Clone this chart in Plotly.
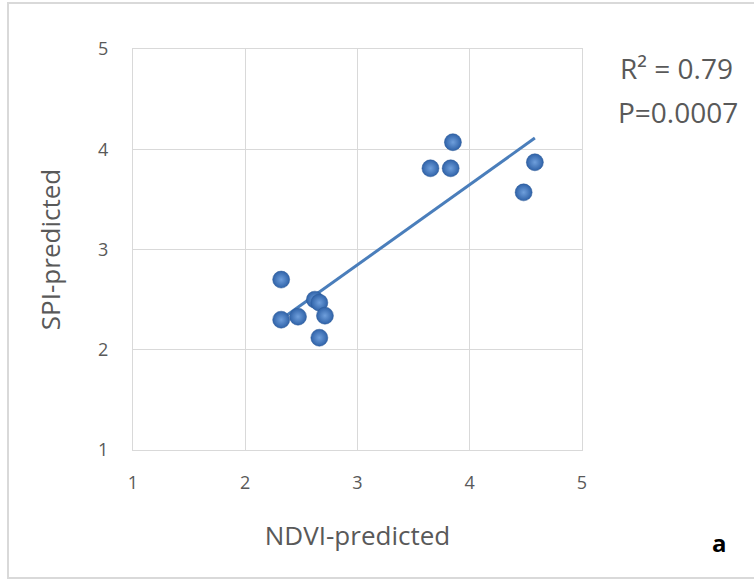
import numpy as np
import plotly.graph_objects as go

ndvi_pred = [2.32, 2.32, 2.47, 2.62, 2.66, 2.71, 2.66, 3.65, 3.83, 3.85, 4.48, 4.58]
spi_pred = [2.70, 2.30, 2.33, 2.50, 2.47, 2.34, 2.12, 3.81, 3.81, 4.07, 3.57, 3.87]
tick_vals = [1, 2, 3, 4, 5]
stats_text = ["R² = 0.79", "P=0.0007"]
panel_label = "a"

x = np.array(ndvi_pred)
y = np.array(spi_pred)
slope, intercept = np.polyfit(x, y, 1)
xl = np.array([x.min(), x.max()])
yl = slope * xl + intercept

L, R, T, B = 133, 172, 49, 131
W, H = 754, 581
pw, ph = W - L - R, H - T - B

def px(xp):
    return (xp - L) / pw

def py(yp):
    return (H - B - yp) / ph

fig = go.Figure()
fig.add_trace(go.Scatter(x=xl, y=yl, mode="lines",
                         line=dict(color="#4a7ebb", width=3), hoverinfo="skip"))
fig.add_trace(go.Scatter(x=ndvi_pred, y=spi_pred, mode="markers",
                         marker=dict(size=17, color="#2f62a8",
                                     line=dict(color="#2a5896", width=0.5),
                                     gradient=dict(type="radial", color="#6f9fdc"))))

grey = "#595959"
fig.update_layout(
    width=W, height=H,
    margin=dict(l=L, r=R, t=T, b=B),
    paper_bgcolor="white", plot_bgcolor="white",
    showlegend=False,
    font=dict(family="Open Sans, Liberation Sans, sans-serif", color=grey),
    xaxis=dict(range=[1, 5], tickvals=tick_vals, showgrid=True, gridcolor="#d9d9d9",
               gridwidth=1, zeroline=False, showline=True, linecolor="#d9d9d9",
               mirror=True, ticks="", tickfont=dict(size=18, color=grey),
               ticklabelstandoff=16,
               title=dict(text="NDVI-predicted", font=dict(size=26, color=grey), standoff=34)),
    yaxis=dict(range=[1, 5], tickvals=tick_vals, showgrid=True, gridcolor="#d9d9d9",
               gridwidth=1, zeroline=False, showline=True, linecolor="#d9d9d9",
               mirror=True, ticks="", tickfont=dict(size=18, color=grey),
               ticklabelstandoff=20,
               title=dict(text="SPI-predicted", font=dict(size=26, color=grey), standoff=30)),
)

fig.add_shape(type="rect", xref="paper", yref="paper",
              x0=px(8), x1=px(770), y0=py(578), y1=py(3),
              line=dict(color="#d9d9d9", width=2), fillcolor="rgba(0,0,0,0)", layer="below")

fig.add_annotation(xref="paper", yref="paper", x=px(676), y=py(68), text=stats_text[0],
                   showarrow=False, font=dict(size=28, color=grey), xanchor="center", yanchor="middle")
fig.add_annotation(xref="paper", yref="paper", x=px(678), y=py(112), text=stats_text[1],
                   showarrow=False, font=dict(size=28, color=grey), xanchor="center", yanchor="middle")
fig.add_annotation(xref="paper", yref="paper", x=px(719), y=py(542), text="<b>" + panel_label + "</b>",
                   showarrow=False, font=dict(size=24, color="black"), xanchor="center", yanchor="middle")

fig.write_html("out.html")
